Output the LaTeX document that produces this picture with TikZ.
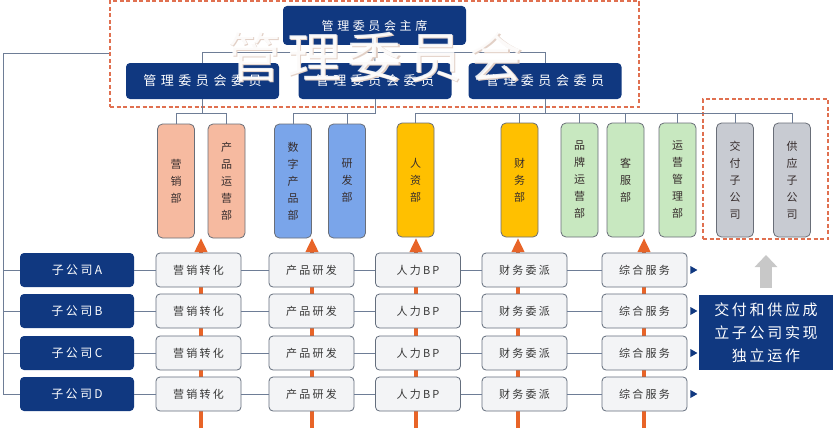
\documentclass[tikz,border=0pt]{standalone}
\usepackage{fontspec}
\setmainfont{Noto Sans CJK SC}
\newfontfamily\lsA[LetterSpace=30]{Noto Sans CJK SC}
\newfontfamily\lsB[LetterSpace=35]{Noto Sans CJK SC}
\newfontfamily\lsC[LetterSpace=20]{Noto Sans CJK SC}
\newfontfamily\lsD[LetterSpace=18]{Noto Sans CJK SC}
\newfontfamily\lsW[LetterSpace=12]{Noto Sans CJK SC}
\usetikzlibrary{arrows.meta,calc}
\definecolor{navy}{RGB}{16,56,128}
\definecolor{dashorange}{RGB}{224,112,80}
\definecolor{connblue}{RGB}{110,125,150}
\definecolor{peach}{RGB}{246,186,160}
\definecolor{skyblue}{RGB}{122,165,234}
\definecolor{gold}{RGB}{255,192,0}
\definecolor{mint}{RGB}{200,232,192}
\definecolor{silver}{RGB}{200,203,210}
\definecolor{deptborder}{RGB}{105,110,120}
\definecolor{depttext}{RGB}{55,45,45}
\definecolor{funcfill}{RGB}{243,244,246}
\definecolor{funcborder}{RGB}{100,110,125}
\definecolor{functext}{RGB}{55,55,55}
\definecolor{arroworange}{RGB}{232,100,40}
\definecolor{lightgrayarrow}{RGB}{200,200,200}
\definecolor{wmshadow}{RGB}{226,208,198}
\begin{document}
\begin{tikzpicture}[x=1pt,y=-1pt,
  navybox/.style={fill=navy, draw=none, rounded corners=4pt, text=white, inner sep=0pt},
  chairbox/.style={navybox, minimum width=183pt, minimum height=39pt, font=\lsA\fontsize{12}{14}\selectfont},
  memberbox/.style={navybox, minimum width=153pt, minimum height=36pt, font=\lsB\fontsize{13}{15}\selectfont},
  deptbox/.style={draw=deptborder, line width=0.8pt, rounded corners=5pt, minimum width=37pt, minimum height=114pt, inner sep=0pt, align=center, font=\fontsize{11}{17}\selectfont, text=depttext},
  funcbox/.style={draw=funcborder, fill=funcfill, line width=0.8pt, rounded corners=4pt, minimum width=85pt, minimum height=34pt, inner sep=0pt, font=\lsC\fontsize{11}{13}\selectfont, text=functext},
  subbox/.style={navybox, minimum width=114pt, minimum height=34pt, font=\lsC\fontsize{12}{14}\selectfont},
  conn/.style={draw=connblue, line width=1pt},
  uparrow/.style={draw=arroworange, line width=3.5pt, -{Triangle[width=12pt,length=14pt]}},
  orgdash/.style={draw=dashorange, line width=1.5pt, dash pattern=on 4pt off 2.5pt},
  wm/.style={font=\lsW\fontsize{54}{54}\selectfont, inner sep=0pt}
]
\useasboundingbox (0,0) rectangle (834,428);
\fill[white] (0,0) rectangle (834,428);

% orange upward arrows (behind the boxes)
\foreach \i/\x in {1/201,2/312,3/416,4/518,5/644} {
  \coordinate (ab\i) at (\x,428);
  \coordinate (at\i) at (\x,238);
  \draw[uparrow] (ab\i) -- (at\i);
}

% dashed frames
\node[orgdash, minimum width=529pt, minimum height=106pt, inner sep=0pt] (mgmt) at (374.5,54) {};
\node[orgdash, minimum width=125pt, minimum height=140pt, inner sep=0pt] (spin) at (765.5,169) {};

% management committee
\node[chairbox] (chair) at (374.5,25.5) {管理委员会主席};
\node[memberbox] (m1) at (202.5,81) {管理委员会委员};
\node[memberbox] (m2) at (375,81) {管理委员会委员};
\node[memberbox] (m3) at (545,81) {管理委员会委员};
\draw[conn] (chair) -- (m2);
\draw[conn] (m1.north) -- ++(0,-10) -| (m3.north);

% departments
\node[deptbox, fill=peach] (d1) at (176,181) {营\\销\\部};
\node[deptbox, fill=peach] (d2) at (226.5,181) {产\\品\\运\\营\\部};
\node[deptbox, fill=skyblue] (d3) at (293,181) {数\\字\\产\\品\\部};
\node[deptbox, fill=skyblue] (d4) at (347,181) {研\\发\\部};
\node[deptbox, fill=gold] (d5) at (415.5,180) {人\\资\\部};
\node[deptbox, fill=gold] (d6) at (519.5,180) {财\\务\\部};
\node[deptbox, fill=mint] (d7) at (579.5,180) {品\\牌\\运\\营\\部};
\node[deptbox, fill=mint] (d8) at (625.5,180) {客\\服\\部};
\node[deptbox, fill=mint] (d9) at (677.5,180) {运\\营\\管\\理\\部};
\node[deptbox, fill=silver] (d10) at (735,180) {交\\付\\子\\公\\司};
\node[deptbox, fill=silver] (d11) at (792,180) {供\\应\\子\\公\\司};

\coordinate (bus) at (0,113);
\draw[conn] (m1.south) -- (m1.south |- bus);
\draw[conn] (d1.north) -- (d1.north |- bus) -- (d2.north |- bus) -- (d2.north);
\draw[conn] (m2.south) -- (m2.south |- bus) -- (d3.north |- bus) -- (d3.north);
\draw[conn] (d4.north) -- (d4.north |- bus);
\draw[conn] (m3.south) -- (m3.south |- bus);
\draw[conn] (d5.north) -- (d5.north |- bus) -- (d11.north |- bus) -- (d11.north);
\foreach \d in {d6,d7,d8,d9,d10} \draw[conn] (\d.north) -- (\d.north |- bus);

% left trunk
\coordinate (trunk) at (3,54);

% subsidiaries and function rows
\foreach \r/\y in {A/270,B/311,C/353,D/394} {
  \node[subbox] (s\r) at (77,\y) {子公司\r};
  \node[funcbox] (f1\r) at (198.5,\y) {营销转化};
  \node[funcbox] (f2\r) at (311.5,\y) {产品研发};
  \node[funcbox] (f3\r) at (418,\y) {人力BP};
  \node[funcbox] (f4\r) at (524.5,\y) {财务委派};
  \node[funcbox] (f5\r) at (644.5,\y) {综合服务};
  \draw[conn] (s\r) -- (f1\r) -- (f2\r) -- (f3\r) -- (f4\r) -- (f5\r);
  \fill[navy] ($(f5\r.east)+(3,-4)$) -- ++(7,4) -- ++(-7,4) -- cycle;
  \draw[conn] (trunk |- s\r.west) -- (s\r.west);
}
\draw[conn] (mgmt.west) -- (trunk) -- (trunk |- sD.west);

% spin-off note
\node[fill=navy, text=white, minimum width=134pt, minimum height=75pt, inner sep=0pt, align=center, font=\lsD\fontsize{15}{23}\selectfont] (note) at (766,332.5) {交付和供应成\\立子公司实现\\独立运作};
\coordinate (gtop) at (766,255);
\draw[draw=lightgrayarrow, line width=12pt, -{Triangle[width=22pt,length=12pt]}] (note.north |- 0,288) -- (gtop);

% watermark
\node[wm, text=wmshadow] (wmshade) at (376.2,58.2) {管理委员会};
\node[wm, text=white, opacity=0.9] (wmark) at (375,57) {管理委员会};
\end{tikzpicture}
\end{document}
